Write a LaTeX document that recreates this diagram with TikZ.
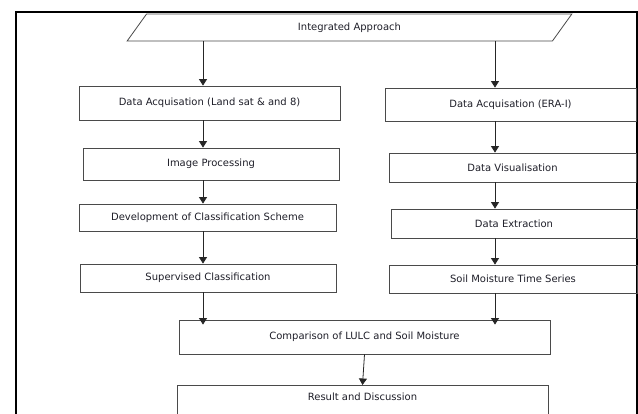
\documentclass[tikz,border=0pt]{standalone}
\usepackage{fontspec}
\setmainfont{DejaVu Sans}
\usepackage{xcolor}
\usetikzlibrary{positioning,arrows.meta,shapes.geometric,calc}
\definecolor{BoxLine}{HTML}{4A4A4A}
\definecolor{TxtDark}{HTML}{1E1E28}

\begin{document}
\begin{tikzpicture}[x=1pt,y=-1pt,
  font=\fontsize{10}{12}\selectfont, >={Triangle[length=6.5pt,width=8pt]},
  box/.style={draw=BoxLine,line width=0.8pt,text=TxtDark,inner sep=0pt},
  para/.style={trapezium,trapezium left angle=63,trapezium right angle=117,
               trapezium stretches=true,draw=BoxLine,line width=0.8pt,text=TxtDark,inner sep=0pt},
  resbox/.style={box,anchor=north,text height=15.5pt,text depth=40pt},
  k/.style={->,line width=0.8pt,black!85},
]
\useasboundingbox (0,0) rectangle (638,414);
\clip (0,0) rectangle (638,414);
\draw[line width=2pt] (16,12) rectangle (637,440);

\node[para,minimum width=445,minimum height=27] (ia) at (349.5,27.5) {Integrated Approach};

\node[box,minimum width=261,minimum height=34] (l1) at (209.5,103) {Data Acquisation (Land sat \& and 8)};
\node[box,minimum width=256,minimum height=32] (l2) at (211,164)   {Image Processing};
\node[box,minimum width=257,minimum height=27] (l3) at (207.5,217.5) {Development of Classification Scheme};
\node[box,minimum width=256,minimum height=28] (l4) at (208,278)   {Supervised Classification};

\node[box,minimum width=251,minimum height=33] (r1) at (510.5,104.5) {Data Acquisation (ERA-I)};
\node[box,minimum width=247,minimum height=29] (r2) at (512.5,167.5) {Data Visualisation};
\node[box,minimum width=246,minimum height=29] (r3) at (514,223.5)   {Data Extraction};
\node[box,minimum width=248,minimum height=28] (r4) at (513,279)     {Soil Moisture Time Series};

\node[box,minimum width=371,minimum height=34] (cmp) at (364.5,337) {Comparison of LULC and Soil Moisture};
\node[resbox,minimum width=371] (res) at (362.5,385) {Result and Discussion};

\coordinate (cl) at (203,0);
\coordinate (cr) at (495,0);

\draw[k] (ia.south -| cl) -- (l1.north -| cl);
\draw[k] (l1.south -| cl) -- (l2.north -| cl);
\draw[k] (l2.south -| cl) -- (l3.north -| cl);
\draw[k] (l3.south -| cl) -- (l4.north -| cl);
\draw[k,shorten >=-5pt] (l4.south -| cl) -- (cmp.north -| cl);

\draw[k] (ia.south -| cr) -- (r1.north -| cr);
\draw[k] (r1.south -| cr) -- (r2.north -| cr);
\draw[k] (r2.south -| cr) -- (r3.north -| cr);
\draw[k] (r3.south -| cr) -- (r4.north -| cr);
\draw[k,shorten >=-5pt] (r4.south -| cr) -- (cmp.north -| cr);

\draw[k] (cmp.south) -- (res.north);
\end{tikzpicture}
\end{document}
